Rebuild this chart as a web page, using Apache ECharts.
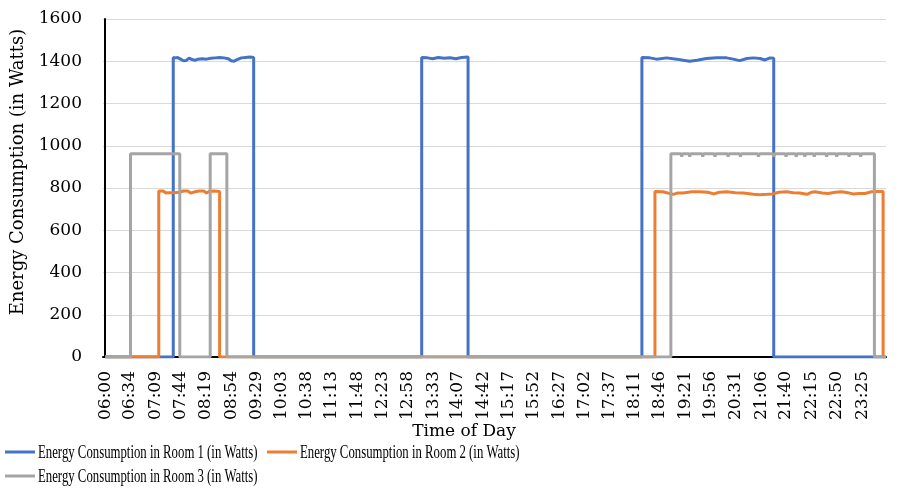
<!DOCTYPE html>
<html>
<head>
<meta charset="utf-8">
<script src="https://cdn.jsdelivr.net/npm/echarts@6/dist/echarts.min.js"></script>
<style>
  html, body { margin: 0; padding: 0; background: #fff; }
  #chart { width: 905px; height: 488px; }
</style>
</head>
<body>
<div id="chart"></div>
<script>
// Time-of-day tick labels along the horizontal axis
const tickLabels = ['06:00','06:34','07:09','07:44','08:19','08:54','09:29','10:03','10:38','11:13',
  '11:48','12:23','12:58','13:33','14:07','14:42','15:17','15:52','16:27','17:02','17:37','18:11',
  '18:46','19:21','19:56','20:31','21:06','21:40','22:15','22:50','23:25'];

const seriesNames = [
  'Energy Consumption in Room 1 (in Watts)',
  'Energy Consumption in Room 2 (in Watts)',
  'Energy Consumption in Room 3 (in Watts)'
];

// Readings as [time, watts]
const room1 = [
  ['06:00',0],['07:34',0],['07:34',1418],['07:37',1416],['07:40',1418],['07:44',1410],['07:48',1402],
  ['07:52',1404],['07:56',1415],['08:00',1408],['08:04',1404],['08:08',1410],['08:14',1412],['08:20',1410],
  ['08:26',1414],['08:32',1416],['08:38',1418],['08:44',1416],['08:50',1412],['08:54',1402],['08:58',1400],
  ['09:02',1408],['09:08',1416],['09:14',1418],['09:20',1420],['09:25',1418],['09:25',0],
  ['13:17',0],['13:17',1418],['13:25',1416],['13:32',1412],['13:40',1418],['13:48',1414],['13:56',1417],
  ['14:04',1412],['14:12',1418],['14:21',1420],['14:21',0],
  ['18:21',0],['18:21',1418],['18:32',1416],['18:41',1410],['18:55',1416],['19:09',1410],['19:18',1405],
  ['19:27',1400],['19:37',1405],['19:50',1413],['20:04',1416],['20:18',1416],['20:27',1410],['20:36',1403],
  ['20:46',1413],['20:55',1416],['21:04',1413],['21:11',1406],['21:18',1416],['21:23',1414],['21:23',0],
  ['23:58',0]
];

const room2 = [
  ['06:00',0],['07:14',0],['07:14',786],['07:20',786],['07:24',776],['07:28',778],['07:36',778],['07:42',780],
  ['07:48',786],['07:54',786],['07:58',776],['08:04',782],['08:10',786],['08:16',786],['08:20',776],
  ['08:24',784],['08:30',786],['08:38',784],['08:38',0],
  ['18:39',0],['18:39',784],['18:50',782],['19:04',770],['19:10',776],['19:18',776],['19:30',782],
  ['19:41',782],['19:52',780],['20:00',772],['20:08',780],['20:18',782],['20:30',778],['20:41',776],
  ['20:55',770],['21:04',768],['21:14',770],['21:22',772],['21:30',780],['21:41',782],['21:50',778],
  ['21:59',776],['22:09',770],['22:15',780],['22:20',782],['22:30',776],['22:38',774],['22:48',780],
  ['22:57',782],['23:05',778],['23:13',772],['23:21',774],['23:29',774],['23:38',782],['23:47',784],
  ['23:54',784],['23:54',0],['23:58',0]
];

const room3 = [
  ['06:00',0],['06:35',0],['06:35',962],['06:45',962],['06:47',955],['06:49',962],['06:57',962],['06:59',955],
  ['07:01',962],['07:09',962],['07:11',955],['07:13',962],['07:23',962],['07:25',955],['07:27',962],
  ['07:43',962],['07:43',0],
  ['08:25',0],['08:25',962],['08:35',962],['08:37',955],['08:39',962],['08:48',962],['08:48',0],
  ['19:01',0],['19:01',962],['19:15',962],['19:16',948],['19:17',962],['19:26',962],['19:27',948],['19:28',962],
  ['19:44',962],['19:45',948],['19:46',962],['20:01',962],['20:02',948],['20:03',962],['20:19',962],
  ['20:20',948],['20:21',962],['20:36',962],['20:37',948],['20:38',962],['21:01',962],['21:02',948],
  ['21:03',962],['21:22',962],['21:23',948],['21:24',962],['21:39',962],['21:40',948],['21:41',962],
  ['21:53',962],['21:54',948],['21:55',962],['22:05',962],['22:06',948],['22:07',962],['22:18',962],
  ['22:19',948],['22:20',962],['22:35',962],['22:36',948],['22:37',962],['22:49',962],['22:50',948],
  ['22:51',962],['23:06',962],['23:07',948],['23:08',962],['23:22',962],['23:23',948],['23:24',962],
  ['23:42',962],['23:42',0],['23:58',0]
];

const colors = ['#4472C4', '#ED7D31', '#A5A5A5'];

// minutes elapsed since 06:00
function toMin(t) {
  const p = t.split(':');
  return Number(p[0]) * 60 + Number(p[1]) - 360;
}

const tickPositions = tickLabels.map(toMin);
const labelByMin = {};
tickLabels.forEach(function (l, i) { labelByMin[tickPositions[i]] = l; });

const serif = 'DejaVu Serif';

// Legend: coloured line swatch + narrow serif caption, wrapped onto two rows
const legendSlots = [[5, 452], [267, 452], [5, 476]];
const legendGraphics = [];
seriesNames.forEach(function (name, i) {
  const s = legendSlots[i];
  legendGraphics.push({
    type: 'line',
    shape: { x1: s[0], y1: s[1], x2: s[0] + 30, y2: s[1] },
    style: { stroke: colors[i], lineWidth: 3 }
  });
  legendGraphics.push({
    type: 'text',
    x: s[0] + 33,
    y: s[1] + 1,
    scaleX: 0.71,
    style: {
      text: name,
      fontFamily: 'Liberation Serif',
      fontSize: 18,
      fill: '#000',
      align: 'left',
      verticalAlign: 'middle'
    }
  });
});

const chart = echarts.init(document.getElementById('chart'));
chart.setOption({
  animation: false,
  backgroundColor: '#ffffff',
  grid: { left: 103, right: 19, top: 19, bottom: 131 },
  xAxis: {
    type: 'value',
    min: -3,
    max: 1078,
    axisLine: { show: true, onZero: true, lineStyle: { color: '#000', width: 2 } },
    axisTick: { show: false },
    splitLine: { show: false },
    axisLabel: {
      customValues: tickPositions,
      formatter: function (v) { return labelByMin[v] !== undefined ? labelByMin[v] : ''; },
      rotate: 90,
      margin: 14,
      fontFamily: serif,
      fontSize: 17,
      color: '#000'
    }
  },
  yAxis: {
    type: 'value',
    min: 0,
    max: 1600,
    interval: 200,
    axisLine: { show: true, lineStyle: { color: '#000', width: 2 } },
    axisTick: { show: false },
    splitLine: { show: true, lineStyle: { color: '#d9d9d9', width: 1 } },
    axisLabel: {
      margin: 21,
      formatter: function (v) { return String(v); },
      fontFamily: serif,
      fontSize: 17,
      color: '#000'
    }
  },
  graphic: [
    {
      type: 'text',
      x: 18,
      y: 172,
      rotation: Math.PI / 2,
      style: {
        text: 'Energy Consumption (in Watts)',
        fontFamily: serif,
        fontSize: 18,
        fill: '#000',
        align: 'center',
        verticalAlign: 'middle'
      }
    },
    {
      type: 'text',
      x: 464,
      y: 432,
      style: {
        text: 'Time of Day',
        fontFamily: serif,
        fontSize: 17,
        fill: '#000',
        align: 'center',
        verticalAlign: 'middle'
      }
    }
  ].concat(legendGraphics),
  series: [room1, room2, room3].map(function (rows, i) {
    return {
      name: seriesNames[i],
      type: 'line',
      symbol: 'none',
      color: colors[i],
      lineStyle: { width: 3, color: colors[i] },
      data: rows.map(function (r) { return [toMin(r[0]), r[1]]; })
    };
  })
});
</script>
</body>
</html>
